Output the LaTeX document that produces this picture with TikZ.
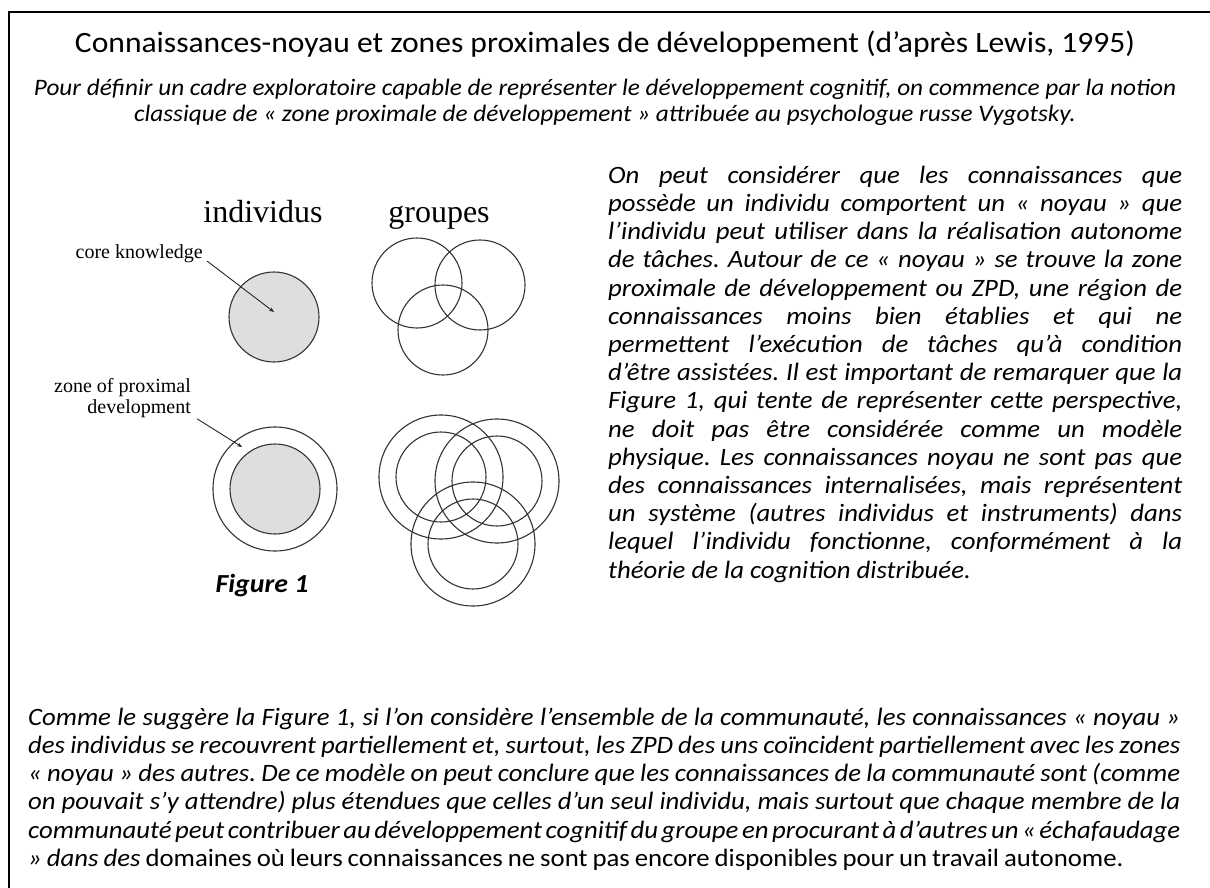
\documentclass[tikz,border=0pt]{standalone}
\usepackage{fontspec}
\setmainfont{Carlito}[FakeStretch=1.07]
\newfontfamily\figfont{Liberation Serif}
\usetikzlibrary{arrows.meta}
\frenchspacing
\tikzset{
  cercle/.style={circle, draw=black!80, line width=1.1pt, minimum size=90pt, inner sep=0pt},
  noyau/.style={cercle, fill=black!13},
  zone/.style={cercle, minimum size=124pt},
  fleche/.style={-{Stealth[length=5pt,width=4pt]}, line width=0.9pt, black!85},
  etiq/.style={font=\figfont\fontsize{20}{21}\selectfont, inner sep=0pt},
  titre/.style={font=\figfont\fontsize{32}{34}\selectfont, inner sep=0pt, anchor=base},
  texte/.style={inner sep=0pt, align=justify, anchor=north west, font=\itshape\fontsize{25}{28.2}\selectfont}
}

\begin{document}
\begin{tikzpicture}[x=1pt, y=-1pt]
\useasboundingbox (0,0) rectangle (1210,888);
\draw [line width=2pt] (9,892) -- (9,12) -- (1214,12);

% en-tete
\node (entete) at (605,53) [anchor=base, font=\fontsize{29.5}{34}\selectfont] {Connaissances-noyau et zones proximales de développement (d’après Lewis, 1995)};
\node (intro) at (605,77) [anchor=north, align=center, inner sep=0pt, font=\itshape\fontsize{23.6}{26}\selectfont] {\strut Pour définir un cadre exploratoire capable de représenter le développement cognitif, on commence par la notion\\classique de « zone proximale de développement » attribuée au psychologue russe Vygotsky.};

% figure
\node [titre] (indiv) at (263,222) {individus};
\node [titre] (grp) at (439,222) {groupes};

\node [noyau] (noyauA) at (274,317) {};
\node [zone] (zpdA) at (275,489) {};
\node [noyau] (noyauB) at (275,489) {};

\node [cercle] (g1) at (417,283) {};
\node [cercle] (g2) at (480,285) {};
\node [cercle] (g3) at (443,330) {};

\node [zone] (h1z) at (441,477) {};
\node [cercle] (h1) at (441,477) {};
\node [zone] (h2z) at (497,481) {};
\node [cercle] (h2) at (497,481) {};
\node [zone] (h3z) at (473,544) {};
\node [cercle] (h3) at (473,544) {};

\node [etiq, anchor=base east] (lblnoyau) at (203,258) {core knowledge};
\node [etiq, align=right, anchor=north east] (lblzpd) at (191,378) {zone of proximal\\development};
\coordinate (ptnoyau) at (274,312);
\coordinate (ptzpd) at (242,447);
\draw [fleche] ([shift={(4,3)}]lblnoyau.base east) -- (ptnoyau);
\draw [fleche] ([shift={(6,1)}]lblzpd.south east) -- (ptzpd);

\node (legende) at (262,592) [anchor=base, font=\bfseries\itshape\fontsize{26}{30}\selectfont] {Figure 1};

% textes
\node [texte, text width=574pt] (droite) at (608,163.3) {\strut On peut considérer que les connaissances que\linebreak
possède un individu comportent un « noyau » que\linebreak
l’individu peut utiliser dans la réalisation autonome\linebreak
de tâches. Autour de ce « noyau » se trouve la zone\linebreak
proximale de développement ou ZPD, une région de\linebreak
connaissances moins bien établies et qui ne\linebreak
permettent l’exécution de tâches qu’à condition\linebreak
d’être assistées. Il est important de remarquer que la\linebreak
Figure 1, qui tente de représenter cette perspective,\linebreak
ne doit pas être considérée comme un modèle\linebreak
physique. Les connaissances noyau ne sont pas que\linebreak
des connaissances internalisées, mais représentent\linebreak
un système (autres individus et instruments) dans\linebreak
lequel l’individu fonctionne, conformément à la\linebreak
théorie de la cognition distribuée.};

\node [texte, text width=1152pt] (bas) at (28,705.3) {\spaceskip=0.2em plus 0.4em minus 0.1em\strut Comme le suggère la Figure 1, si l’on considère l’ensemble de la communauté, les connaissances « noyau »\linebreak
des individus se recouvrent partiellement et, surtout, les ZPD des uns coïncident partiellement avec les zones\linebreak
« noyau » des autres. De ce modèle on peut conclure que les connaissances de la communauté sont (comme\linebreak
on pouvait s’y attendre) plus étendues que celles d’un seul individu, mais surtout que chaque membre de la\linebreak
communauté peut contribuer au développement cognitif du groupe en procurant à d’autres un «~échafaudage\linebreak
» dans des \upshape domaines où leurs connaissances ne sont pas encore disponibles pour un travail autonome.};
\end{tikzpicture}
\end{document}
